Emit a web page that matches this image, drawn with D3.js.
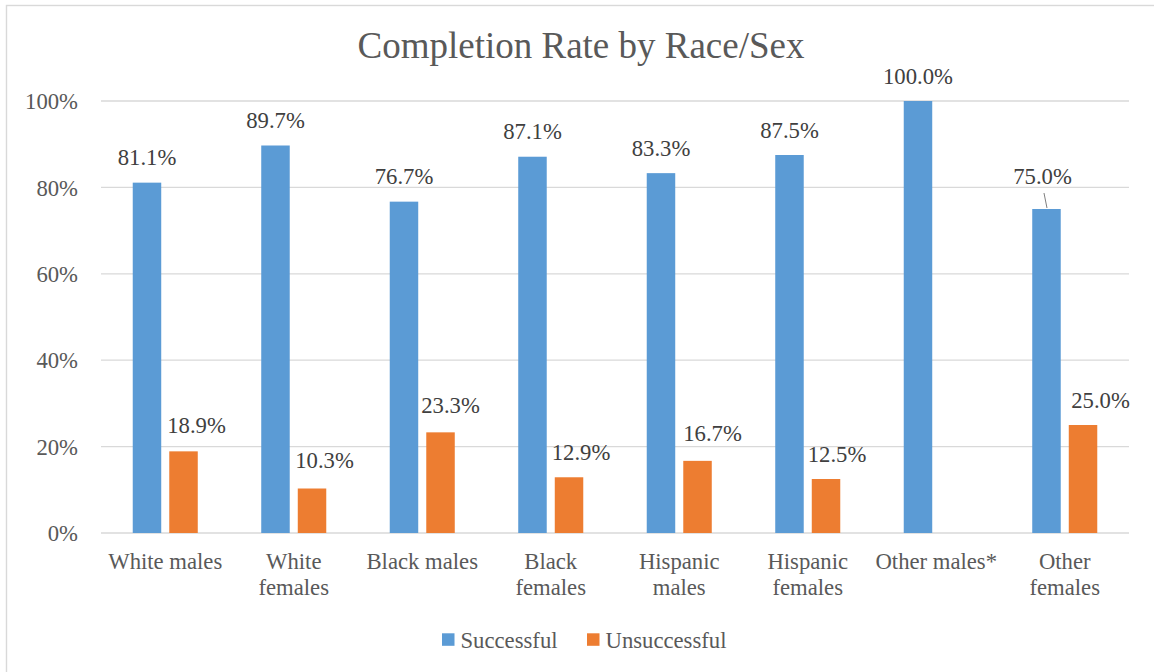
<!DOCTYPE html>
<html>
<head>
<meta charset="utf-8">
<script src="https://cdn.jsdelivr.net/npm/d3@7/dist/d3.min.js"></script>
<style>
  html, body { margin: 0; padding: 0; background: #fff; }
  svg { display: block; }
</style>
</head>
<body>
<svg id="chart" width="1154" height="672"></svg>
<script>
// Completion rate (%) by race/sex group
const categories = ["White males", "White females", "Black males", "Black females",
                    "Hispanic males", "Hispanic females", "Other males*", "Other females"];
const successful   = [81.1, 89.7, 76.7, 87.1, 83.3, 87.5, 100.0, 75.0];
const unsuccessful = [18.9, 10.3, 23.3, 12.9, 16.7, 12.5, null, 25.0];
const seriesNames  = ["Successful", "Unsuccessful"];
const seriesColors = ["#5b9bd5", "#ed7d31"];
const yTicks = [0, 20, 40, 60, 80, 100];

// Hand-placed label nudges [dx, dy] in px, relative to the default spot above each bar
const successfulNudge = [[0,0],[0,0],[0,0],[0,0],[0,0],[0,0],[0,0],[-4,-8]];
const unsuccessfulNudge = [[13,-1],[12.5,-3],[10,-2],[12,0],[15,-3],[11,0],[0,0],[17.5,0.6]];

const FONT = "'Liberation Serif', 'Times New Roman', serif";
const FS = 22.7;

const svg = d3.select("#chart");
const W = 1154, H = 672;
const plot = { left: 101, right: 1129, top: 101, bottom: 533 };

// outer chart frame
svg.append("rect")
  .attr("x", 6.5).attr("y", 5.5)
  .attr("width", W + 20).attr("height", H + 20)
  .attr("fill", "#fff").attr("stroke", "#d9d9d9").attr("stroke-width", 1.4);

const x0 = d3.scaleBand().domain(categories)
  .range([plot.left, plot.right]).paddingInner(0.494).paddingOuter(0.247);
const x1 = d3.scaleBand().domain(seriesNames)
  .range([0, x0.bandwidth()]).paddingInner(0.22);
const y = d3.scaleLinear().domain([0, 100]).range([plot.bottom, plot.top]);

// gridlines
svg.append("g").selectAll("line").data(yTicks).join("line")
  .attr("x1", plot.left).attr("x2", plot.right)
  .attr("y1", d => y(d)).attr("y2", d => y(d))
  .attr("stroke", "#d9d9d9").attr("stroke-width", 1.3);

// y axis tick labels
const yAxis = d3.axisLeft(y).tickValues(yTicks).tickFormat(d => d + "%").tickSize(0).tickPadding(0);
const gy = svg.append("g").attr("transform", `translate(78,0)`).call(yAxis);
gy.select(".domain").remove();
gy.selectAll("text")
  .style("font-family", FONT).style("font-size", FS + "px")
  .attr("fill", "#595959").attr("dy", "0.34em");

// title
svg.append("text")
  .attr("x", 581).attr("y", 57.5).attr("text-anchor", "middle")
  .style("font-family", FONT).style("font-size", "37px").attr("fill", "#595959")
  .text("Completion Rate by Race/Sex");

const rows = categories.map((c, i) => ({
  cat: c,
  vals: [
    { s: seriesNames[0], v: successful[i],   nudge: successfulNudge[i] },
    { s: seriesNames[1], v: unsuccessful[i], nudge: unsuccessfulNudge[i] }
  ]
}));

const groups = svg.append("g").selectAll("g").data(rows).join("g")
  .attr("transform", d => `translate(${x0(d.cat)},0)`);

// bars
groups.selectAll("rect").data(d => d.vals.filter(v => v.v != null)).join("rect")
  .attr("x", d => x1(d.s)).attr("width", x1.bandwidth())
  .attr("y", d => y(d.v)).attr("height", d => y(0) - y(d.v))
  .attr("fill", d => seriesColors[seriesNames.indexOf(d.s)]);

// value labels
groups.selectAll("text.val").data(d => d.vals.filter(v => v.v != null)).join("text")
  .attr("class", "val")
  .attr("x", d => x1(d.s) + x1.bandwidth() / 2 + d.nudge[0])
  .attr("y", d => y(d.v) - 17.3 + d.nudge[1])
  .attr("text-anchor", "middle")
  .style("font-family", FONT).style("font-size", FS + "px").attr("fill", "#404040")
  .text(d => d.v.toFixed(1) + "%");

// leader line for labels pulled away from their bar
groups.selectAll("line.leader")
  .data(d => d.vals.filter(v => v.v != null && Math.abs(v.nudge[1]) > 5))
  .join("line").attr("class", "leader")
  .attr("x1", d => x1(d.s) + x1.bandwidth() / 2 - 2.5)
  .attr("y1", d => y(d.v) - 16)
  .attr("x2", d => x1(d.s) + x1.bandwidth() / 2 + 0.5)
  .attr("y2", d => y(d.v) - 1)
  .attr("stroke", "#7f7f7f").attr("stroke-width", 1);

// category labels, wrapped to fit inside the category slot
const wrapWidth = x0.step() - 4;
const catG = svg.append("g");
categories.forEach(c => {
  const cx = x0(c) + x0.bandwidth() / 2;
  const t = catG.append("text")
    .attr("x", cx).attr("y", 568.5).attr("text-anchor", "middle")
    .style("font-family", FONT).style("font-size", FS + "px").attr("fill", "#595959");
  const words = c.split(" ");
  let line = [];
  let tspan = t.append("tspan").attr("x", cx).attr("dy", 0);
  words.forEach(w => {
    line.push(w);
    tspan.text(line.join(" "));
    if (tspan.node().getComputedTextLength() > wrapWidth && line.length > 1) {
      line.pop();
      tspan.text(line.join(" "));
      line = [w];
      tspan = t.append("tspan").attr("x", cx).attr("dy", 26.5).text(w);
    }
  });
});

// legend
const legend = svg.append("g");
const legendItems = [
  { name: seriesNames[0], color: seriesColors[0], x: 442 },
  { name: seriesNames[1], color: seriesColors[1], x: 587 }
];
legendItems.forEach(it => {
  legend.append("rect").attr("x", it.x).attr("y", 633.3)
    .attr("width", 12.5).attr("height", 12.5).attr("fill", it.color);
  legend.append("text").attr("x", it.x + 18.5).attr("y", 647.5)
    .style("font-family", FONT).style("font-size", FS + "px").attr("fill", "#595959").text(it.name);
});
</script>
</body>
</html>
